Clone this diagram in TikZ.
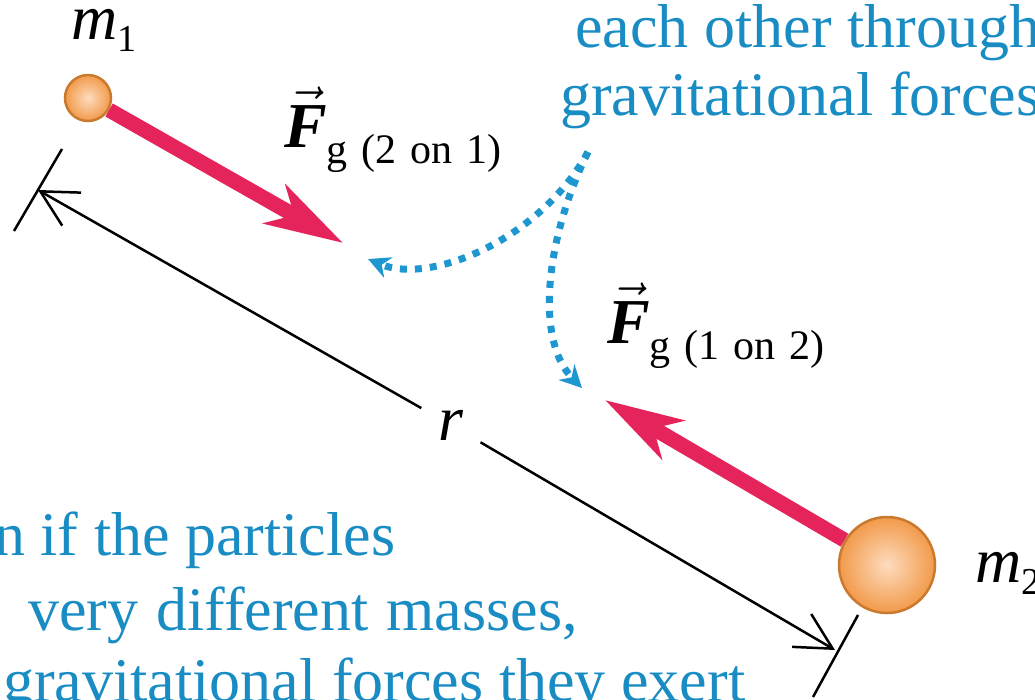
\RequirePackage{fix-cm}
\documentclass[tikz,border=0pt]{standalone}
\usepackage{fontspec}
\setmainfont{Liberation Serif}
\usetikzlibrary{positioning,arrows.meta}
\definecolor{force}{HTML}{E5245B}
\definecolor{note}{HTML}{1A8CC4}
\definecolor{hintblue}{HTML}{1E96CF}
\definecolor{massin}{HTML}{FDDCBE}
\definecolor{massout}{HTML}{F29A4A}
\definecolor{massrim}{HTML}{C97A2E}

\begin{document}
\begin{tikzpicture}[x=1pt,y=-1pt,
  mass/.style={circle,draw=massrim,line width=2.5pt,inner color=massin,outer color=massout,inner sep=0pt},
  lbl/.style={inner sep=0pt,anchor=base west,font=\fontsize{64}{64}\selectfont},
  notetxt/.style={inner sep=0pt,anchor=base west,text=note,font=\fontsize{62}{70}\selectfont},
  pull/.style={force,line width=15pt,-{Stealth[length=78pt,width=44pt,inset=22pt]}},
  hint/.style={hintblue,line width=7pt,dash pattern=on 7pt off 8pt,-{Stealth[length=22pt,width=22pt]}},
  dimline/.style={line width=2.5pt,{Straight Barb[length=36pt,width=38pt]}-}]
\useasboundingbox (0,0) rectangle (1035,699); \clip (0,0) rectangle (1035,699);
% the two particles
\node[mass,minimum size=46pt] (m1) at (88,98) {}; \node[mass,minimum size=96pt] (m2) at (887,565) {};
\node[lbl] (lm1) at (71,39) {\textit{m}\raisebox{-12pt}{\fontsize{38}{38}\selectfont 1}};
\node[lbl] (lm2) at (975,582) {\textit{m}\raisebox{-12pt}{\fontsize{38}{38}\selectfont 2}};
% forces
\coordinate (tip1) at (343,243); \coordinate (tip2) at (605,400);
\draw[pull] (m1) -- (tip1); \draw[pull] (m2) -- (tip2);
\node[lbl] (f21) at (284,147) {$\vec{\textbf{\textit{F}}}$\raisebox{-16pt}{\fontsize{42}{42}\selectfont\spaceskip=14pt g (2 on 1)}};
\node[lbl] (f12) at (607,343) {$\vec{\textbf{\textit{F}}}$\raisebox{-16pt}{\fontsize{42}{42}\selectfont\spaceskip=14pt g (1 on 2)}};
% separation r
\coordinate (rL) at (38,190); \coordinate (rR) at (835,650);
\node[circle,minimum size=68pt,inner sep=0pt,font=\itshape\fontsize{64}{64}\selectfont] (r) at (451,425) {r};
\draw[dimline] (rL) -- (r); \draw[dimline] (rR) -- (r);
\draw[line width=2.5pt] (62,149) -- (14,231); \draw[line width=2.5pt] (858,615) -- (813,697);
% notes
\node[notetxt] (n1) at (575,47) {each other through}; \node[notetxt] (n2) at (560,115) {gravitational forces};
\node[notetxt] (n3) at (-6,555) {n if the particles};
\node[notetxt,anchor=base east] (n4) at (578,630) {\spaceskip=18pt very different masses,};
\node[notetxt] (n5) at (3,701) {gravitational forces they exert};
\coordinate (src) at (588,152); \coordinate (dotA) at (368,259); \coordinate (dotB) at (582,388);
\draw[hint] (src) .. controls (540,240) and (430,285) .. (dotA);
\draw[hint] (src) .. controls (545,240) and (535,340) .. (dotB);
\end{tikzpicture}
\end{document}
